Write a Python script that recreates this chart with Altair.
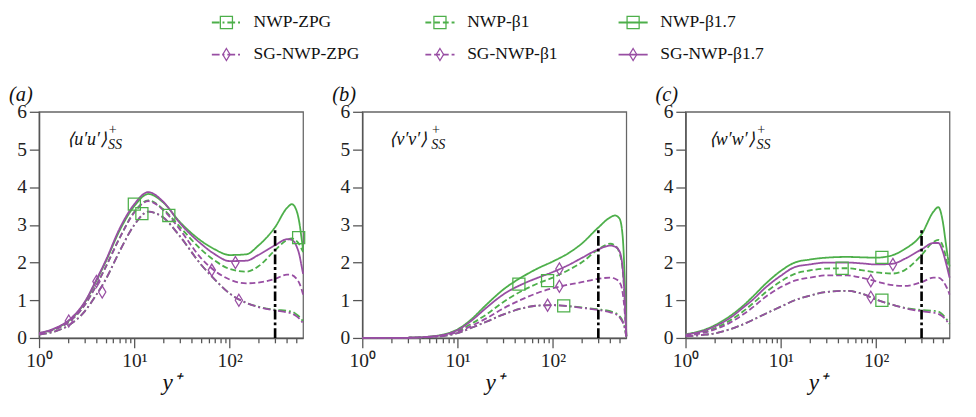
import altair as alt
import pandas as pd

GREEN = "#4daf4a"
PURPLE = "#984ea3"
FONT = "Liberation Serif"

SERIES = ["NWP-ZPG", "NWP-β1", "NWP-β1.7", "SG-NWP-ZPG", "SG-NWP-β1", "SG-NWP-β1.7"]
YPLUS = [1, 1.5, 2, 3, 4, 5, 7, 10, 14, 20, 30, 50, 70, 100, 150, 200, 300, 400, 450, 500, 540, 565, 590]

# panel (a) <u'u'>
UU = {
    "NWP-ZPG":     [0.09, 0.18, 0.32, 0.70, 1.15, 1.55, 2.30, 3.00, 3.35, 3.20, 2.70, 1.95, 1.55, 1.18, 0.93, 0.83, 0.75, 0.72, 0.70, 0.63, 0.56, 0.50, 0.44],
    "NWP-β1":      [0.11, 0.24, 0.40, 0.87, 1.40, 1.88, 2.65, 3.35, 3.65, 3.42, 2.95, 2.35, 2.05, 1.83, 1.76, 1.90, 2.33, 2.60, 2.64, 2.58, 2.48, 2.38, 2.28],
    "NWP-β1.7":    [0.12, 0.26, 0.43, 0.93, 1.52, 2.02, 2.85, 3.50, 3.82, 3.60, 3.08, 2.58, 2.35, 2.20, 2.22, 2.45, 2.94, 3.45, 3.55, 3.40, 3.05, 2.70, 2.35],
    "SG-NWP-ZPG":  [0.09, 0.18, 0.32, 0.70, 1.15, 1.55, 2.30, 3.00, 3.35, 3.20, 2.70, 1.95, 1.55, 1.18, 0.93, 0.82, 0.73, 0.68, 0.65, 0.58, 0.51, 0.45, 0.40],
    "SG-NWP-β1":   [0.11, 0.24, 0.40, 0.87, 1.40, 1.88, 2.65, 3.33, 3.63, 3.40, 2.88, 2.12, 1.78, 1.55, 1.45, 1.47, 1.57, 1.68, 1.67, 1.58, 1.45, 1.32, 1.15],
    "SG-NWP-β1.7": [0.13, 0.27, 0.45, 0.95, 1.55, 2.05, 2.90, 3.55, 3.87, 3.62, 3.05, 2.50, 2.22, 2.04, 2.05, 2.20, 2.46, 2.62, 2.60, 2.45, 2.20, 1.95, 1.70],
}
# panel (b) <v'v'>
VV = {
    "NWP-ZPG":     [0.0, 0.0, 0.0, 0.005, 0.01, 0.02, 0.05, 0.13, 0.27, 0.43, 0.62, 0.80, 0.86, 0.87, 0.84, 0.81, 0.76, 0.71, 0.67, 0.58, 0.45, 0.30, 0.03],
    "NWP-β1":      [0.0, 0.0, 0.0, 0.005, 0.015, 0.03, 0.07, 0.18, 0.38, 0.62, 0.95, 1.28, 1.45, 1.60, 1.82, 2.00, 2.35, 2.50, 2.45, 2.25, 1.80, 1.10, 0.05],
    "NWP-β1.7":    [0.0, 0.0, 0.0, 0.005, 0.015, 0.035, 0.09, 0.23, 0.50, 0.88, 1.28, 1.65, 1.85, 2.03, 2.27, 2.50, 2.93, 3.20, 3.25, 3.17, 2.70, 1.70, 0.05],
    "SG-NWP-ZPG":  [0.0, 0.0, 0.0, 0.005, 0.01, 0.02, 0.05, 0.13, 0.27, 0.43, 0.62, 0.80, 0.86, 0.87, 0.84, 0.80, 0.74, 0.68, 0.64, 0.55, 0.42, 0.28, 0.03],
    "SG-NWP-β1":   [0.0, 0.0, 0.0, 0.005, 0.015, 0.03, 0.06, 0.16, 0.32, 0.52, 0.78, 1.05, 1.20, 1.32, 1.42, 1.48, 1.57, 1.60, 1.57, 1.48, 1.20, 0.75, 0.05],
    "SG-NWP-β1.7": [0.0, 0.0, 0.0, 0.005, 0.015, 0.035, 0.08, 0.21, 0.46, 0.80, 1.15, 1.45, 1.60, 1.75, 1.95, 2.12, 2.35, 2.45, 2.42, 2.30, 1.85, 1.15, 0.05],
}
# panel (c) <w'w'>
WW = {
    "NWP-ZPG":     [0.04, 0.08, 0.12, 0.24, 0.36, 0.47, 0.65, 0.83, 1.00, 1.12, 1.22, 1.25, 1.18, 1.02, 0.88, 0.80, 0.74, 0.72, 0.70, 0.62, 0.52, 0.45, 0.38],
    "NWP-β1":      [0.07, 0.15, 0.25, 0.48, 0.70, 0.90, 1.22, 1.50, 1.70, 1.79, 1.84, 1.85, 1.80, 1.74, 1.71, 1.80, 2.20, 2.55, 2.60, 2.45, 2.15, 1.90, 1.65],
    "NWP-β1.7":    [0.10, 0.20, 0.33, 0.60, 0.85, 1.08, 1.45, 1.78, 2.00, 2.08, 2.13, 2.15, 2.14, 2.13, 2.20, 2.36, 2.75, 3.35, 3.47, 3.10, 2.50, 2.15, 1.90],
    "SG-NWP-ZPG":  [0.04, 0.08, 0.12, 0.24, 0.36, 0.47, 0.65, 0.83, 1.00, 1.12, 1.22, 1.25, 1.18, 1.02, 0.88, 0.79, 0.71, 0.67, 0.64, 0.57, 0.48, 0.42, 0.36],
    "SG-NWP-β1":   [0.06, 0.13, 0.22, 0.42, 0.62, 0.80, 1.10, 1.35, 1.52, 1.60, 1.66, 1.66, 1.60, 1.50, 1.40, 1.38, 1.48, 1.60, 1.60, 1.52, 1.38, 1.28, 1.15],
    "SG-NWP-β1.7": [0.09, 0.18, 0.30, 0.55, 0.80, 1.00, 1.35, 1.65, 1.88, 1.95, 2.00, 2.00, 1.98, 1.95, 1.97, 2.10, 2.35, 2.52, 2.52, 2.30, 2.00, 1.80, 1.60],
}

# marker positions (y+, value)
MK_UU = {
    "NWP-ZPG": [(12, 3.30)], "NWP-β1": [(23, 3.25), (530, 2.66)], "NWP-β1.7": [(10, 3.55)],
    "SG-NWP-ZPG": [(4.6, 1.22), (125, 1.00)], "SG-NWP-β1": [(2.05, 0.45), (65, 1.80)],
    "SG-NWP-β1.7": [(4.0, 1.50), (115, 2.00)],
}
MK_VV = {
    "NWP-ZPG": [(130, 0.85)], "NWP-β1": [(88, 1.52)], "NWP-β1.7": [(44, 1.43)],
    "SG-NWP-ZPG": [(88, 0.87)], "SG-NWP-β1": [(117, 1.37)], "SG-NWP-β1.7": [(117, 1.83)],
}
MK_WW = {
    "NWP-ZPG": [(115, 1.00)], "NWP-β1": [(44, 1.85)], "NWP-β1.7": [(115, 2.14)],
    "SG-NWP-ZPG": [(88, 1.08)], "SG-NWP-β1": [(88, 1.52)], "SG-NWP-β1.7": [(150, 1.95)],
}

PANEL_KEYS = ["a", "b", "c"]
PANEL_LINES = {"a": UU, "b": VV, "c": WW}
PANEL_MARKS = {"a": MK_UU, "b": MK_VV, "c": MK_WW}
PANEL_MAIN = {"a": "⟨u′u′⟩", "b": "⟨v′v′⟩", "c": "⟨w′w′⟩"}
PANEL_MAIN_X = {"a": 29, "b": 28, "c": 24}
PANEL_MAIN_W = {"a": 45, "b": 46, "c": 52}

VLINE_YPLUS = 300
VLINE_TOP = 2.93

X_TICKS = [1, 2, 3, 4, 5, 6, 7, 8, 9, 10, 20, 30, 40, 50, 60, 70, 80, 90, 100, 200, 300, 400, 500]
Y_TICKS = [0, 1, 2, 3, 4, 5, 6]

DIAMOND = "M0,-1L0.6,0L0,1L-0.6,0Z"

PW, PH = 272, 233
SPACING = 24
EXTENT = 31
TOTAL_W = 3 * (PW + EXTENT) + 2 * SPACING

color_scale = alt.Scale(domain=SERIES, range=[GREEN, GREEN, GREEN, PURPLE, PURPLE, PURPLE])
dash_scale = alt.Scale(domain=SERIES, range=[[8, 3, 2, 3], [6, 3], [1, 0], [8, 3, 2, 3], [6, 3], [1, 0]])
shape_scale = alt.Scale(domain=SERIES, range=["square"] * 3 + [DIAMOND] * 3)
size_scale = alt.Scale(domain=SERIES, range=[155] * 3 + [280] * 3)

x_scale = alt.Scale(type="log", domain=[1, 590], nice=False)
y_scale = alt.Scale(domain=[0, 6], nice=False, zero=False)

x_axis = alt.Axis(
    values=X_TICKS,
    labelExpr="datum.value == 1 ? '10⁰' : datum.value == 10 ? '10¹' : datum.value == 100 ? '10²' : ''",
    tickSize={"condition": {"test": "datum.value == 1 || datum.value == 10 || datum.value == 100", "value": 10}, "value": 5},
    grid=False, title="y⁺", titleFontStyle="italic", titleFontWeight="normal",
    titleFontSize=24, titleFont=FONT, titlePadding=1, titleColor="#111",
    labelFont=FONT, labelFontSize=20, labelColor="#222", labelPadding=3, labelFlush=False,
    domainColor="#555", tickColor="#555", domainWidth=1.5, tickWidth=1.3, labelOverlap=False,
)
y_axis = alt.Axis(
    values=Y_TICKS, tickCount=7, grid=False, title=None, tickSize=10, labelPadding=3,
    labelFont=FONT, labelFontSize=20, labelColor="#222", labelOverlap=False, labelFlush=False,
    domainColor="#555", tickColor="#555", domainWidth=1.5, tickWidth=1.3,
    minExtent=EXTENT, maxExtent=EXTENT,
)

line_rows = []
mark_rows = []
for key in PANEL_KEYS:
    for s in SERIES:
        for xp, v in zip(YPLUS, PANEL_LINES[key][s]):
            line_rows.append({"panel": key, "series": s, "yp": xp, "val": v})
        for xp, v in PANEL_MARKS[key][s]:
            mark_rows.append({"panel": key, "series": s, "yp": xp, "val": v})
lines_df = pd.DataFrame(line_rows)
marks_df = pd.DataFrame(mark_rows)
vline_df = pd.DataFrame({"yp": [VLINE_YPLUS], "val": [0], "top": [VLINE_TOP]})


def make_panel(key):
    X = alt.X("yp:Q", scale=x_scale, axis=x_axis)
    Y = alt.Y("val:Q", scale=y_scale, axis=y_axis)
    lines = alt.Chart(lines_df[lines_df.panel == key]).mark_line(
        strokeWidth=1.85, interpolate="monotone"
    ).encode(
        x=X, y=Y,
        color=alt.Color("series:N", scale=color_scale, legend=None),
        strokeDash=alt.StrokeDash("series:N", scale=dash_scale, legend=None),
    )
    pts = alt.Chart(marks_df[marks_df.panel == key]).mark_point(
        filled=False, strokeWidth=1.3, opacity=1
    ).encode(
        x=X, y=Y,
        color=alt.Color("series:N", scale=color_scale, legend=None),
        shape=alt.Shape("series:N", scale=shape_scale, legend=None),
        size=alt.Size("series:N", scale=size_scale, legend=None),
    )
    vline = alt.Chart(vline_df).mark_rule(
        color="black", strokeWidth=2.7, strokeDash=[10, 3, 3, 3]
    ).encode(x=X, y=Y, y2="top:Q")
    ann_df = pd.DataFrame({"main": [PANEL_MAIN[key]], "sup": ["+"], "sub": ["SS"], "lab": [f"({key})"]})
    mx = PANEL_MAIN_X[key]
    mw = PANEL_MAIN_W[key]
    main = alt.Chart(ann_df).mark_text(
        font=FONT, fontSize=18.5, fontStyle="italic", align="left", baseline="middle", color="#111"
    ).encode(x=alt.value(mx), y=alt.value(28), text="main:N")
    sup = alt.Chart(ann_df).mark_text(
        font=FONT, fontSize=14.5, align="center", baseline="middle", color="#111"
    ).encode(x=alt.value(mx + mw + 2), y=alt.value(19), text="sup:N")
    sub = alt.Chart(ann_df).mark_text(
        font=FONT, fontSize=14.5, fontStyle="italic", align="left", baseline="middle", color="#111"
    ).encode(x=alt.value(mx + mw - 3), y=alt.value(34), text="sub:N")
    lab = alt.Chart(ann_df).mark_text(
        font=FONT, fontSize=21, fontStyle="italic", align="left", baseline="middle", color="#111"
    ).encode(x=alt.value(-EXTENT), y=alt.value(-17), text="lab:N")
    return alt.layer(lines, pts, vline, main, sup, sub, lab).properties(width=PW, height=PH)


# custom legend (line + marker samples)
leg_df = pd.DataFrame({
    "series": SERIES,
    "col": [i % 3 for i in range(len(SERIES))],
    "row": [i // 3 for i in range(len(SERIES))],
})
LX = alt.X("col:Q", scale=alt.Scale(domain=[0, 1, 2], range=[193, 413, 612]), axis=None)
LY = alt.Y("row:Q", scale=alt.Scale(domain=[0, 1], range=[9, 42]), axis=None)
leg_lines = alt.Chart(leg_df).mark_rule(strokeWidth=1.85, xOffset=-15, x2Offset=15).encode(
    x=LX, x2="col:Q", y=LY,
    color=alt.Color("series:N", scale=color_scale, legend=None),
    strokeDash=alt.StrokeDash("series:N", scale=dash_scale, legend=None),
)
leg_pts = alt.Chart(leg_df).mark_point(filled=False, strokeWidth=1.3, opacity=1).encode(
    x=LX, y=LY,
    color=alt.Color("series:N", scale=color_scale, legend=None),
    shape=alt.Shape("series:N", scale=shape_scale, legend=None),
    size=alt.Size("series:N", scale=size_scale, legend=None),
)
leg_text = alt.Chart(leg_df).mark_text(
    font=FONT, fontSize=18, align="left", baseline="middle", dx=28, color="#111"
).encode(x=LX, y=LY, text="series:N")
legend = alt.layer(leg_lines, leg_pts, leg_text).properties(
    width=TOTAL_W, height=51, view=alt.ViewBackground(strokeOpacity=0)
)

row = alt.hconcat(*[make_panel(k) for k in PANEL_KEYS], spacing=SPACING).resolve_scale(
    color="shared", strokeDash="shared", shape="shared", size="shared"
)
chart = alt.vconcat(legend, row, spacing=21, center=False).properties(
    padding={"left": 0, "top": 0, "right": 0, "bottom": 0}
).configure(font=FONT).configure_view(stroke="#666", strokeWidth=1.3).configure_axisY(
    labelOverlap=False
)

chart.save("out.html", embed_options={"renderer": "svg", "actions": False})
